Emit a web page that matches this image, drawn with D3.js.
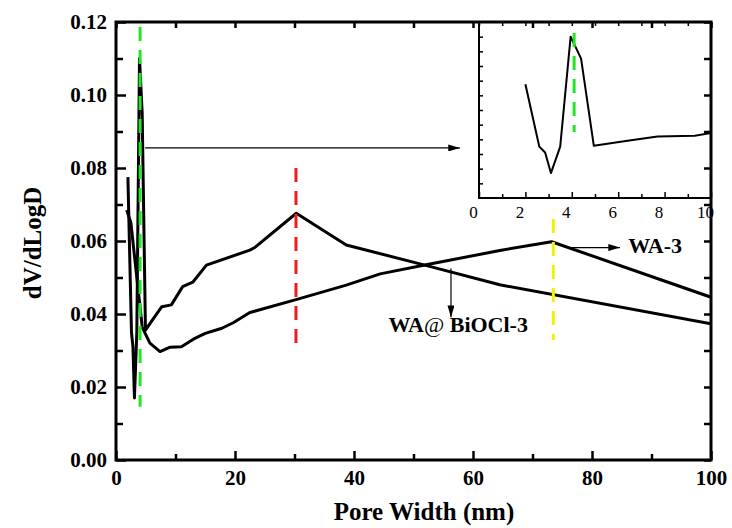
<!DOCTYPE html>
<html lang="en">
<head>
<meta charset="UTF-8">
<title>Pore size distribution</title>
<script src="https://d3js.org/d3.v7.min.js"></script>
<style>
  body { margin: 0; background: #fff; }
  svg text { font-family: "Liberation Serif", "Times New Roman", serif; fill: #000; }
</style>
</head>
<body>
<div id="chart"></div>
<script>
// curve with the sharp peak near 4 nm (also shown in the inset)
const poreA = [2.0, 2.6, 2.85, 3.1, 3.5, 3.95, 4.4, 4.95, 6.4, 7.7, 9.3, 11.2, 12.9, 15.2, 22.5, 23.4, 30.3, 38.7, 51.9, 64.5, 100];
const dvA   = [0.0775, 0.035, 0.031, 0.017, 0.035, 0.110, 0.095, 0.0356, 0.039, 0.042, 0.0425, 0.0475, 0.0487, 0.0534, 0.0575, 0.0583, 0.0676, 0.0589, 0.0534, 0.048, 0.0373];
// curve with the broad maximum near 73 nm
const poreB = [1.8, 2.5, 4.4, 4.9, 5.7, 7.4, 9.1, 11.0, 13.0, 15.0, 17.8, 19.7, 22.5, 30.4, 38.7, 44.4, 51.9, 64.5, 73.2, 100];
const dvB   = [0.0685, 0.065, 0.0365, 0.0347, 0.032, 0.0297, 0.0309, 0.031, 0.0331, 0.0347, 0.0361, 0.0376, 0.0404, 0.044, 0.0479, 0.051, 0.0534, 0.0574, 0.0598, 0.0446];

const xTicks = [0, 20, 40, 60, 80, 100];
const xMinor = [10, 30, 50, 70, 90];
const yTicks = [0, 0.02, 0.04, 0.06, 0.08, 0.10, 0.12];
const yMinor = [0.01, 0.03, 0.05, 0.07, 0.09, 0.11];
const insetTicks = [0, 2, 4, 6, 8, 10];
const insetMinor = [1, 3, 5, 7, 9];
const insetYTicks = [0.01, 0.02, 0.03, 0.04, 0.05, 0.06, 0.07, 0.08, 0.09, 0.10, 0.11];

const W = 732, H = 528;
const x = d3.scaleLinear().domain([0, 100]).range([116, 711]);
const y = d3.scaleLinear().domain([0, 0.12]).range([460, 22]);
const xi = d3.scaleLinear().domain([0, 10]).range([479, 711]);
const yi = d3.scaleLinear().domain([0, 0.12]).range([198, 22]);

const svg = d3.select("#chart").append("svg")
  .attr("width", W).attr("height", H);

const defs = svg.append("defs");
defs.append("clipPath").attr("id", "plotClip")
  .append("rect").attr("x", 116).attr("y", 22).attr("width", 595).attr("height", 438);
defs.append("clipPath").attr("id", "insetClip")
  .append("rect").attr("x", xi(0)).attr("y", yi(0.12))
  .attr("width", xi(10) - xi(0)).attr("height", yi(0) - yi(0.12));
defs.append("marker").attr("id", "head")
  .attr("viewBox", "0 0 10 6").attr("refX", 10).attr("refY", 3)
  .attr("markerWidth", 12).attr("markerHeight", 7).attr("markerUnits", "userSpaceOnUse")
  .attr("orient", "auto")
  .append("path").attr("d", "M0,0L10,3L0,6Z").attr("fill", "#000");

const line = d3.line().x(d => x(d[0])).y(d => y(d[1]));
const plot = svg.append("g").attr("clip-path", "url(#plotClip)");

// dashed markers
function dash(g, sx, sy, xv, y0, y1, color, w) {
  g.append("line")
    .attr("x1", sx(xv)).attr("x2", sx(xv))
    .attr("y1", sy(y0)).attr("y2", sy(y1))
    .attr("stroke", color).attr("stroke-width", w)
    .attr("stroke-dasharray", "14,9");
}

plot.append("path").datum(d3.zip(poreA, dvA)).attr("d", line)
  .attr("fill", "none").attr("stroke", "#000").attr("stroke-width", 3).attr("stroke-linejoin", "round");
plot.append("path").datum(d3.zip(poreB, dvB)).attr("d", line)
  .attr("fill", "none").attr("stroke", "#000").attr("stroke-width", 3).attr("stroke-linejoin", "round");

dash(plot, x, y, 4.05, 0.1186, 0.0146, "#22e622", 3);
dash(plot, x, y, 30.25, 0.080, 0.0301, "#ee1c1c", 3);
dash(plot, x, y, 73.5, 0.066, 0.0329, "#f2f200", 3);

// arrows
function arrow(x1, y1, x2, y2) {
  svg.append("line")
    .attr("x1", x(x1)).attr("y1", y(y1)).attr("x2", x(x2)).attr("y2", y(y2))
    .attr("stroke", "#000").attr("stroke-width", 1.2)
    .attr("marker-end", "url(#head)");
}
arrow(4.9, 0.0855, 57.8, 0.0855);
arrow(76.6, 0.0582, 84.7, 0.0582);
arrow(56.3, 0.0525, 56.3, 0.0391);

svg.append("text").attr("x", x(86.1)).attr("y", y(0.0567))
  .style("font-size", "22px").style("font-weight", "bold").text("WA-3");

const lab = svg.append("text").attr("x", x(45.8)).attr("y", y(0.0352))
  .style("font-size", "22px").style("font-weight", "bold");
lab.append("tspan").text("WA");
lab.append("tspan").style("font-weight", "normal").text("@");
lab.append("tspan").text(" BiOCl-3");

// inset
const inset = svg.append("g");
inset.append("rect").attr("x", xi(0)).attr("y", yi(0.12))
  .attr("width", xi(10) - xi(0)).attr("height", yi(0) - yi(0.12)).attr("fill", "#fff");
inset.append("g").attr("clip-path", "url(#insetClip)")
  .append("path").datum(d3.zip(poreA, dvA).filter(d => d[0] <= 12))
  .attr("d", d3.line().x(d => xi(d[0])).y(d => yi(d[1])))
  .attr("fill", "none").attr("stroke", "#000").attr("stroke-width", 2).attr("stroke-linejoin", "round");
dash(inset, xi, yi, 4.1, 0.1125, 0.045, "#22e622", 3);

inset.append("g").attr("transform", `translate(0,${yi(0)})`)
  .call(d3.axisBottom(xi).tickValues(insetTicks).tickSizeInner(-6).tickSizeOuter(0).tickPadding(8))
  .call(g => g.select(".domain").remove())
  .call(g => g.selectAll("text").attr("dx", -6).style("font-size", "17px").style("font-family", "Liberation Serif"));
inset.append("g").attr("transform", `translate(0,${yi(0)})`)
  .call(d3.axisBottom(xi).tickValues(insetMinor).tickSizeInner(-4).tickSizeOuter(0).tickFormat(""))
  .call(g => g.select(".domain").remove());
inset.append("g").attr("transform", `translate(0,${yi(0.12)})`)
  .call(d3.axisTop(xi).tickValues(insetTicks.concat(insetMinor)).tickSizeInner(-4).tickSizeOuter(0).tickFormat(""))
  .call(g => g.select(".domain").remove());
inset.append("g").attr("transform", `translate(${xi(0)},0)`)
  .call(d3.axisLeft(yi).tickValues(insetYTicks).tickSizeInner(-4).tickSizeOuter(0).tickFormat(""))
  .call(g => g.select(".domain").remove());
inset.append("path")
  .attr("d", `M${xi(0)},${yi(0.12)}V${yi(0)}H${xi(10)}`)
  .attr("fill", "none").attr("stroke", "#000").attr("stroke-width", 2);
inset.selectAll(".tick line").attr("stroke-width", 1.5);

// main axes
function styleTicks(g, w) {
  g.select(".domain").remove();
  g.selectAll(".tick line").attr("stroke-width", w);
  g.selectAll("text").style("font-size", "21px").style("font-weight", "bold").style("font-family", "Liberation Serif");
}
svg.append("g").attr("transform", "translate(0,460)")
  .call(d3.axisBottom(x).tickValues(xTicks).tickSizeInner(-9).tickSizeOuter(0).tickPadding(10).tickFormat(d3.format("d")))
  .call(g => styleTicks(g, 2.5));
svg.append("g").attr("transform", "translate(0,460)")
  .call(d3.axisBottom(x).tickValues(xMinor).tickSizeInner(-6).tickSizeOuter(0).tickFormat(""))
  .call(g => styleTicks(g, 2.5));
svg.append("g").attr("transform", "translate(0,22)")
  .call(d3.axisTop(x).tickValues(xTicks.concat(xMinor)).tickSizeInner(-6).tickSizeOuter(0).tickFormat(""))
  .call(g => styleTicks(g, 2.5));
svg.append("g").attr("transform", "translate(116,0)")
  .call(d3.axisLeft(y).tickValues(yTicks).tickSizeInner(-10).tickSizeOuter(0).tickPadding(9).tickFormat(d3.format(".2f")))
  .call(g => styleTicks(g, 2.5));
svg.append("g").attr("transform", "translate(116,0)")
  .call(d3.axisLeft(y).tickValues(yMinor).tickSizeInner(-7).tickSizeOuter(0).tickFormat(""))
  .call(g => styleTicks(g, 2.5));
svg.append("g").attr("transform", "translate(711,0)")
  .call(d3.axisRight(y).tickValues(yTicks.concat(yMinor)).tickSizeInner(-7).tickSizeOuter(0).tickFormat(""))
  .call(g => styleTicks(g, 2.5));

svg.append("rect").attr("x", 116).attr("y", 22).attr("width", 595).attr("height", 438)
  .attr("fill", "none").attr("stroke", "#000").attr("stroke-width", 3);

svg.append("text").attr("x", 424).attr("y", 520).attr("text-anchor", "middle")
  .style("font-size", "25px").style("font-weight", "bold").text("Pore Width (nm)");
svg.append("text").attr("transform", "translate(41,243) rotate(-90)").attr("text-anchor", "middle")
  .style("font-size", "25px").style("font-weight", "bold").text("dV/dLogD");
</script>
</body>
</html>
